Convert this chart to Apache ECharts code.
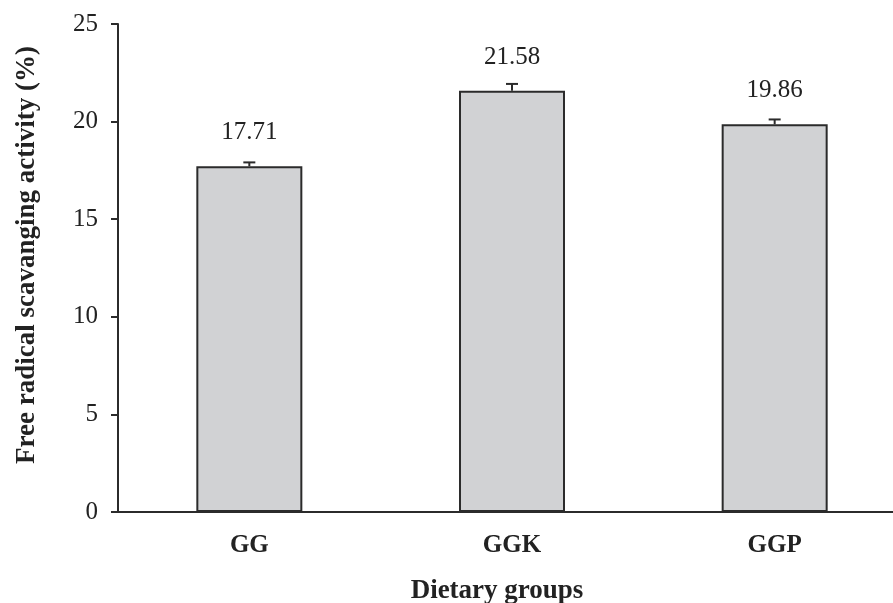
<!DOCTYPE html>
<html>
<head>
<meta charset="utf-8">
<script src="https://cdn.jsdelivr.net/npm/echarts@6/dist/echarts.min.js"></script>
<style>
  html, body { margin: 0; padding: 0; background: #fff; overflow: hidden; }
  /* the plot runs slightly past the right edge of the window */
  #chart { width: 906px; height: 603px; }
</style>
</head>
<body>
<div id="chart"></div>
<script>
// Dietary groups and their mean free radical scavenging activity (%)
const groups = ['GG', 'GGK', 'GGP'];
const activity = [17.71, 21.58, 19.86];
const errors = [0.2, 0.35, 0.25];
const yTicks = [0, 5, 10, 15, 20, 25];

const serif = '"Liberation Serif", "DejaVu Serif", serif';
const chart = echarts.init(document.getElementById('chart'));

chart.setOption({
  animation: false,
  backgroundColor: '#fff',
  grid: { left: 118, top: 24, right: 0, bottom: 91, containLabel: false },
  xAxis: {
    type: 'category',
    data: groups,
    axisLine: { lineStyle: { color: '#2b2b2b', width: 2 } },
    axisTick: { show: false },
    axisLabel: {
      color: '#222', fontFamily: serif, fontWeight: 'bold', fontSize: 25, margin: 21
    }
  },
  yAxis: {
    type: 'value',
    min: yTicks[0],
    max: yTicks[yTicks.length - 1],
    interval: 5,
    splitLine: { show: false },
    axisLine: { show: true, lineStyle: { color: '#2b2b2b', width: 2 } },
    axisTick: { show: true, length: 7, lineStyle: { color: '#2b2b2b', width: 2 } },
    axisLabel: { color: '#222', fontFamily: serif, fontSize: 25, margin: 20 }
  },
  graphic: [
    {
      type: 'text',
      x: 27, y: 255,
      rotation: Math.PI / 2,
      style: {
        text: 'Free radical scavanging activity (%)',
        font: 'bold 27px ' + serif,
        fill: '#222',
        textAlign: 'center',
        textVerticalAlign: 'middle'
      }
    },
    {
      type: 'text',
      x: 497, y: 591,
      style: {
        text: 'Dietary groups',
        font: 'bold 27px ' + serif,
        fill: '#222',
        textAlign: 'center',
        textVerticalAlign: 'middle'
      }
    }
  ],
  series: [
    {
      type: 'bar',
      data: activity,
      barWidth: 106,
      itemStyle: { color: '#d1d2d4', borderColor: '#2b2b2b', borderWidth: 2 },
      label: {
        show: true,
        position: 'top',
        distance: 21,
        color: '#222',
        fontFamily: serif,
        fontSize: 25,
        formatter: p => p.value.toFixed(2)
      },
      z: 2
    },
    {
      type: 'custom',
      data: activity.map((v, i) => [i, v, errors[i]]),
      renderItem: (params, api) => {
        const base = api.coord([api.value(0), api.value(1)]);
        const top = api.coord([api.value(0), api.value(1) + api.value(2)]);
        const half = 6;
        const style = { stroke: '#2b2b2b', lineWidth: 2 };
        return {
          type: 'group',
          children: [
            { type: 'line', shape: { x1: base[0], y1: base[1], x2: top[0], y2: top[1] }, style },
            { type: 'line', shape: { x1: top[0] - half, y1: top[1], x2: top[0] + half, y2: top[1] }, style }
          ]
        };
      },
      z: 3
    }
  ]
});
</script>
</body>
</html>
